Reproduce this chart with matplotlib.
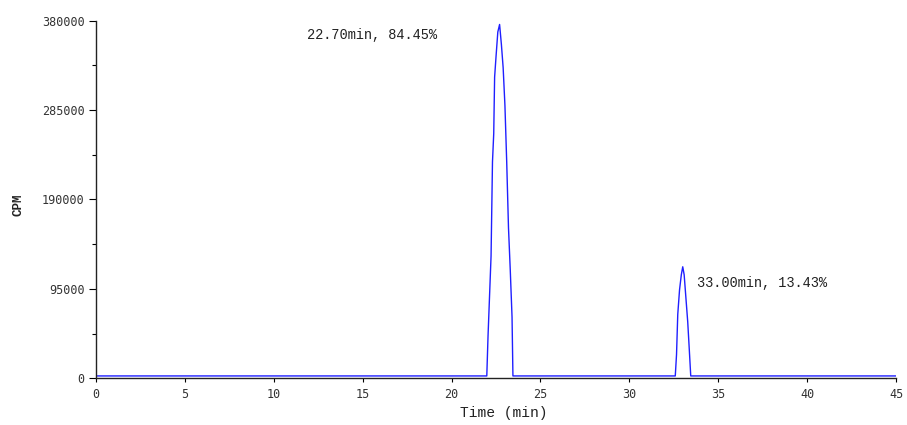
import matplotlib.pyplot as plt
import numpy as np
from matplotlib.ticker import MultipleLocator

# radio-HPLC trace: baseline plus two peaks (time in min, counts per minute)
baseline_cpm = 2500
run_start = 0.1
run_end = 45.0

peak1_time = [21.98, 22.05, 22.15, 22.22, 22.30, 22.37, 22.42, 22.50, 22.60, 22.70,
              22.80, 22.90, 23.00, 23.10, 23.20, 23.30, 23.40, 23.45]
peak1_cpm = [2500, 45000, 95000, 130000, 230000, 260000, 320000, 342000, 368000, 376000,
             355000, 330000, 290000, 230000, 160000, 115000, 65000, 2500]

peak2_time = [32.58, 32.65, 32.72, 32.82, 32.92, 33.00, 33.08, 33.18, 33.28, 33.37, 33.45]
peak2_cpm = [2500, 25000, 68000, 94000, 110000, 118500, 110000, 85000, 60000, 30000, 2500]

peak_labels = ["22.70min, 84.45%", "33.00min, 13.43%"]

y_ticks = [0, 95000, 190000, 285000, 380000]
x_ticks = list(range(0, 50, 5))

times = np.concatenate([[run_start], peak1_time, peak2_time, [run_end]])
cpm = np.concatenate([[baseline_cpm], peak1_cpm, peak2_cpm, [baseline_cpm]])

mono = "Liberation Mono"
tick_font = "DejaVu Sans Mono"

fig = plt.figure(figsize=(9.07, 4.25), dpi=100)
ax = fig.add_axes([0.1058, 0.1099, 0.8822, 0.8414])

ax.plot(times, cpm, color="#1f1fff", lw=1.0)

ax.set_xlim(0, 45)
ax.set_ylim(0, 380000)
ax.set_xticks(x_ticks)
ax.set_yticks(y_ticks)
ax.yaxis.set_minor_locator(MultipleLocator(47500))
ax.set_xticklabels([str(t) for t in x_ticks], family=tick_font, fontsize=8.5, color="#333333")
ax.set_yticklabels([str(v) for v in y_ticks], family=tick_font, fontsize=8.5, color="#333333")
ax.tick_params(axis="y", which="major", length=5, width=0.8, pad=3)
ax.tick_params(axis="y", which="minor", length=3, width=0.8)
ax.tick_params(axis="x", length=3, width=0.8, pad=4)

for side in ("top", "right"):
    ax.spines[side].set_visible(False)
for side in ("left", "bottom"):
    ax.spines[side].set_linewidth(1.0)
    ax.spines[side].set_color("#222222")

ax.text(peak1_time[9] - 10.85, 365000, peak_labels[0], family=mono, fontsize=9.8,
        color="#222222", va="center")
ax.text(peak2_time[5] + 0.8, 101000, peak_labels[1], family=mono, fontsize=9.8,
        color="#222222", va="center")

fig.text(504 / 907, 1 - 413 / 425, "Time (min)", family=mono, fontsize=10.5,
         color="#222222", ha="center", va="center")
fig.text(19 / 907, 1 - 205 / 425, "CPM", family=mono, fontsize=9, fontweight="bold",
         color="#222222", rotation=90, ha="center", va="center")

fig.savefig("out.png", dpi=100)
